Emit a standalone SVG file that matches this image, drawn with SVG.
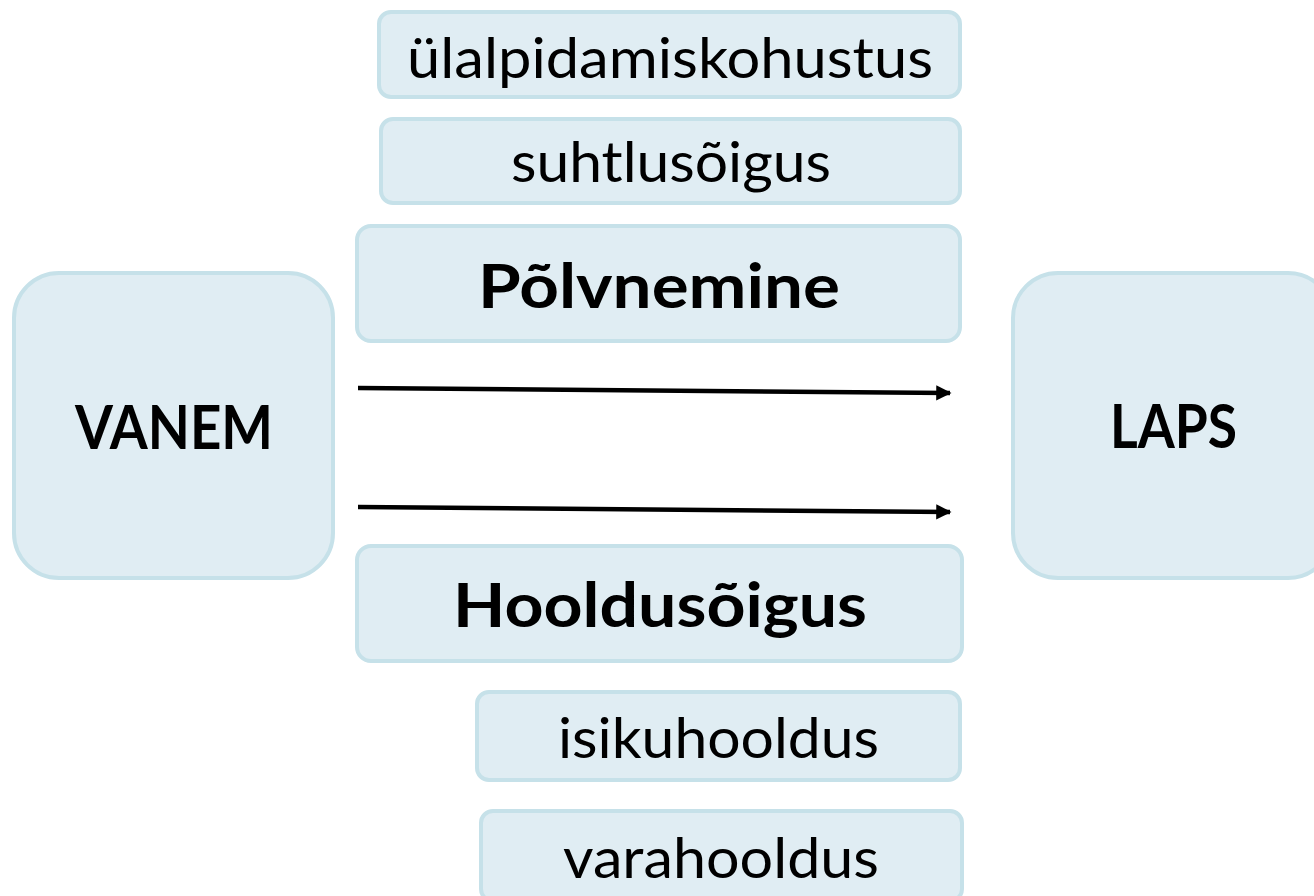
<svg xmlns="http://www.w3.org/2000/svg" width="1314" height="896" viewBox="0 0 1314 896">
<style>
.box{fill:#e0edf3;stroke:#c6e1e9;stroke-width:4}
.t{font-family:Lato,"Open Sans","Liberation Sans",sans-serif;fill:#000;text-anchor:middle}
.r{font-size:56px}
.b{font-size:62px;font-weight:bold}
.c{stroke:#000;stroke-width:4.5;fill:none}
</style>
<defs>
<marker id="ah" viewBox="0 0 10 10" refX="9" refY="5" markerWidth="4" markerHeight="3.4" orient="auto" markerUnits="strokeWidth">
<path d="M0,0 L10,5 L0,10 z" fill="#000"/>
</marker>
</defs>
<rect width="1314" height="896" fill="#fff"/>
<g id="connectors">
<line class="c" x1="358" y1="388" x2="950" y2="393" marker-end="url(#ah)"/>
<line class="c" x1="358" y1="507" x2="950" y2="512" marker-end="url(#ah)"/>
</g>
<g id="n-ulalpidamiskohustus"><rect class="box" x="379" y="12" width="581" height="85" rx="12"/><text class="t r" x="670" y="78" textLength="526" lengthAdjust="spacingAndGlyphs">ülalpidamiskohustus</text></g>
<g id="n-suhtlusoigus"><rect class="box" x="381" y="119" width="579" height="84" rx="12"/><text class="t r" x="671" y="182" textLength="320" lengthAdjust="spacingAndGlyphs">suhtlusõigus</text></g>
<g id="n-polvnemine"><rect class="box" x="357" y="226" width="603" height="115" rx="14"/><text class="t b" x="659" y="308" textLength="362" lengthAdjust="spacingAndGlyphs">Põlvnemine</text></g>
<g id="n-vanem"><rect class="box" x="14" y="273" width="319" height="305" rx="45"/><text class="t b" x="174" y="449" font-size="56" textLength="198" lengthAdjust="spacingAndGlyphs">VANEM</text></g>
<g id="n-laps"><rect class="box" x="1013" y="273" width="320" height="305" rx="45"/><text class="t b" x="1173.5" y="448" font-size="56" textLength="127" lengthAdjust="spacingAndGlyphs">LAPS</text></g>
<g id="n-hooldusoigus"><rect class="box" x="357" y="546" width="605" height="115" rx="14"/><text class="t b" x="660" y="627" textLength="414" lengthAdjust="spacingAndGlyphs">Hooldusõigus</text></g>
<g id="n-isikuhooldus"><rect class="box" x="477" y="692" width="483" height="88" rx="12"/><text class="t r" x="718.5" y="758" textLength="321" lengthAdjust="spacingAndGlyphs">isikuhooldus</text></g>
<g id="n-varahooldus"><rect class="box" x="481" y="811" width="481" height="90" rx="12"/><text class="t r" x="721" y="878" textLength="316" lengthAdjust="spacingAndGlyphs">varahooldus</text></g>
</svg>
